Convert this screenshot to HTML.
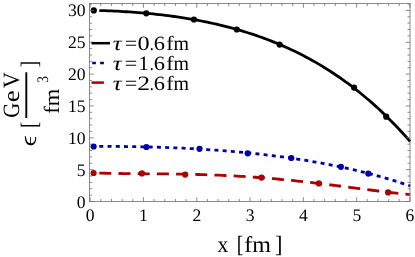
<!DOCTYPE html>
<html><head><meta charset="utf-8"><title>plot</title>
<style>html,body{margin:0;padding:0;background:#fff}svg{display:block;will-change:transform}text{font-family:"Liberation Serif",serif;fill:#000;font-kerning:none;text-rendering:geometricPrecision}</style></head><body>
<svg width="415" height="257" viewBox="0 0 415 257">
<rect width="415" height="257" fill="#fff"/>
<path d="M99.3,10.53 L102.3,10.61 L105.3,10.71 L108.3,10.82 L111.3,10.94 L114.3,11.08 L117.3,11.22 L120.3,11.38 L123.3,11.55 L126.3,11.73 L129.3,11.92 L132.3,12.13 L135.3,12.35 L138.3,12.58 L141.3,12.83 L144.3,13.09 L147.3,13.36 L150.3,13.65 L153.3,13.95 L156.3,14.27 L159.3,14.60 L162.3,14.95 L165.3,15.31 L168.3,15.69 L171.3,16.09 L174.3,16.50 L177.3,16.93 L180.3,17.37 L183.3,17.84 L186.3,18.32 L189.3,18.81 L192.3,19.33 L195.3,19.87 L198.3,20.42 L201.3,21.00 L204.3,21.59 L207.3,22.21 L210.3,22.84 L213.3,23.50 L216.3,24.18 L219.3,24.88 L222.3,25.61 L225.3,26.35 L228.3,27.12 L231.3,27.92 L234.3,28.74 L237.3,29.58 L240.3,30.45 L243.3,31.35 L246.3,32.27 L249.3,33.22 L252.3,34.19 L255.3,35.20 L258.3,36.23 L261.3,37.30 L264.3,38.39 L267.3,39.51 L270.3,40.67 L273.3,41.85 L276.3,43.07 L279.3,44.32 L282.3,45.61 L285.3,46.93 L288.3,48.28 L291.3,49.67 L294.3,51.09 L297.3,52.56 L300.3,54.06 L303.3,55.59 L306.3,57.17 L309.3,58.78 L312.3,60.44 L315.3,62.14 L318.3,63.88 L321.3,65.66 L324.3,67.48 L327.3,69.35 L330.3,71.26 L333.3,73.22 L336.3,75.22 L339.3,77.27 L342.3,79.37 L345.3,81.52 L348.3,83.72 L351.3,85.96 L354.3,88.26 L357.3,90.61 L360.3,93.02 L363.3,95.47 L366.3,97.98 L369.3,100.55 L372.3,103.17 L375.3,105.85 L378.3,108.59 L381.3,111.39 L384.3,114.24 L387.3,117.16 L390.3,120.14 L393.3,123.18 L396.3,126.29 L399.3,129.46 L402.3,132.69 L405.3,136.00 L408.3,139.37 L410.2,141.54" fill="none" stroke="#000" stroke-width="2.8"/>
<path d="M99.3,146.47 L102.3,146.46 L105.3,146.45 L108.3,146.44 L111.3,146.45 L114.3,146.45 L117.3,146.47 L120.3,146.49 L123.3,146.51 L126.3,146.54 L129.3,146.58 L132.3,146.62 L135.3,146.67 L138.3,146.72 L141.3,146.78 L144.3,146.85 L147.3,146.92 L150.3,147.00 L153.3,147.08 L156.3,147.17 L159.3,147.26 L162.3,147.36 L165.3,147.46 L168.3,147.58 L171.3,147.69 L174.3,147.82 L177.3,147.95 L180.3,148.08 L183.3,148.22 L186.3,148.37 L189.3,148.52 L192.3,148.69 L195.3,148.85 L198.3,149.03 L201.3,149.21 L204.3,149.39 L207.3,149.59 L210.3,149.79 L213.3,149.99 L216.3,150.21 L219.3,150.43 L222.3,150.66 L225.3,150.89 L228.3,151.14 L231.3,151.39 L234.3,151.65 L237.3,151.91 L240.3,152.19 L243.3,152.47 L246.3,152.76 L249.3,153.06 L252.3,153.37 L255.3,153.68 L258.3,154.00 L261.3,154.34 L264.3,154.68 L267.3,155.03 L270.3,155.39 L273.3,155.76 L276.3,156.14 L279.3,156.53 L282.3,156.93 L285.3,157.34 L288.3,157.75 L291.3,158.18 L294.3,158.62 L297.3,159.08 L300.3,159.54 L303.3,160.01 L306.3,160.49 L309.3,160.99 L312.3,161.50 L315.3,162.02 L318.3,162.55 L321.3,163.09 L324.3,163.65 L327.3,164.22 L330.3,164.80 L333.3,165.40 L336.3,166.01 L339.3,166.63 L342.3,167.26 L345.3,167.92 L348.3,168.58 L351.3,169.26 L354.3,169.95 L357.3,170.66 L360.3,171.39 L363.3,172.13 L366.3,172.89 L369.3,173.66 L372.3,174.45 L375.3,175.25 L378.3,176.08 L381.3,176.92 L384.3,177.77 L387.3,178.65 L390.3,179.54 L393.3,180.45 L396.3,181.38 L399.3,182.33 L402.3,183.30 L405.3,184.29 L408.3,185.29 L410.2,185.94" fill="none" stroke="#0000aa" stroke-width="2.8" stroke-dasharray="4 4.23"/>
<path d="M99.3,173.10 L102.3,173.18 L105.3,173.25 L108.3,173.32 L111.3,173.38 L114.3,173.43 L117.3,173.48 L120.3,173.52 L123.3,173.56 L126.3,173.60 L129.3,173.63 L132.3,173.66 L135.3,173.68 L138.3,173.71 L141.3,173.73 L144.3,173.76 L147.3,173.78 L150.3,173.80 L153.3,173.83 L156.3,173.85 L159.3,173.88 L162.3,173.90 L165.3,173.93 L168.3,173.97 L171.3,174.00 L174.3,174.04 L177.3,174.08 L180.3,174.13 L183.3,174.18 L186.3,174.24 L189.3,174.30 L192.3,174.36 L195.3,174.43 L198.3,174.51 L201.3,174.59 L204.3,174.68 L207.3,174.78 L210.3,174.88 L213.3,174.99 L216.3,175.10 L219.3,175.22 L222.3,175.35 L225.3,175.49 L228.3,175.63 L231.3,175.78 L234.3,175.94 L237.3,176.11 L240.3,176.28 L243.3,176.46 L246.3,176.65 L249.3,176.85 L252.3,177.05 L255.3,177.27 L258.3,177.49 L261.3,177.71 L264.3,177.95 L267.3,178.19 L270.3,178.45 L273.3,178.71 L276.3,178.97 L279.3,179.25 L282.3,179.53 L285.3,179.82 L288.3,180.11 L291.3,180.41 L294.3,180.72 L297.3,181.04 L300.3,181.36 L303.3,181.69 L306.3,182.02 L309.3,182.36 L312.3,182.70 L315.3,183.05 L318.3,183.41 L321.3,183.77 L324.3,184.13 L327.3,184.50 L330.3,184.87 L333.3,185.25 L336.3,185.62 L339.3,186.00 L342.3,186.38 L345.3,186.77 L348.3,187.15 L351.3,187.54 L354.3,187.93 L357.3,188.32 L360.3,188.70 L363.3,189.09 L366.3,189.47 L369.3,189.86 L372.3,190.24 L375.3,190.62 L378.3,190.99 L381.3,191.36 L384.3,191.73 L387.3,192.09 L390.3,192.45 L393.3,192.80 L396.3,193.14 L399.3,193.48 L402.3,193.81 L405.3,194.13 L408.3,194.44 L410.2,194.63" fill="none" stroke="#aa0000" stroke-width="2.8" stroke-dasharray="12 7.2"/>
<circle cx="93.8" cy="10.4" r="3.1" fill="#000"/>
<circle cx="146.3" cy="13.3" r="3.1" fill="#000"/>
<circle cx="193.9" cy="19.5" r="3.1" fill="#000"/>
<circle cx="236.8" cy="29.5" r="3.1" fill="#000"/>
<circle cx="279.6" cy="44.6" r="3.1" fill="#000"/>
<circle cx="354.1" cy="87.6" r="3.1" fill="#000"/>
<circle cx="386.2" cy="116.7" r="3.1" fill="#000"/>
<circle cx="93.6" cy="146.5" r="3.1" fill="#0000aa"/>
<circle cx="146.4" cy="147" r="3.1" fill="#0000aa"/>
<circle cx="199.5" cy="148.8" r="3.1" fill="#0000aa"/>
<circle cx="247.7" cy="153.3" r="3.1" fill="#0000aa"/>
<circle cx="291.3" cy="158" r="3.1" fill="#0000aa"/>
<circle cx="340.9" cy="166.8" r="3.1" fill="#0000aa"/>
<circle cx="368.3" cy="173.6" r="3.1" fill="#0000aa"/>
<circle cx="93.6" cy="173.0" r="3.1" fill="#aa0000"/>
<circle cx="141.9" cy="173.4" r="3.1" fill="#aa0000"/>
<circle cx="185.2" cy="174.6" r="3.1" fill="#aa0000"/>
<circle cx="261.5" cy="177.6" r="3.1" fill="#aa0000"/>
<circle cx="318.9" cy="183.4" r="3.1" fill="#aa0000"/>
<circle cx="388.1" cy="192.4" r="3.1" fill="#aa0000"/>
<rect x="89.5" y="3.5" width="320.50" height="198.00" fill="none" stroke="#6e6e6e" stroke-width="0.8"/>
<path d="M100.81,201.5v-2.5M100.81,3.5v2.5M111.47,201.5v-2.5M111.47,3.5v2.5M122.13,201.5v-2.5M122.13,3.5v2.5M132.79,201.5v-2.5M132.79,3.5v2.5M154.11,201.5v-2.5M154.11,3.5v2.5M164.77,201.5v-2.5M164.77,3.5v2.5M175.43,201.5v-2.5M175.43,3.5v2.5M186.09,201.5v-2.5M186.09,3.5v2.5M207.41,201.5v-2.5M207.41,3.5v2.5M218.07,201.5v-2.5M218.07,3.5v2.5M228.73,201.5v-2.5M228.73,3.5v2.5M239.39,201.5v-2.5M239.39,3.5v2.5M260.71,201.5v-2.5M260.71,3.5v2.5M271.37,201.5v-2.5M271.37,3.5v2.5M282.03,201.5v-2.5M282.03,3.5v2.5M292.69,201.5v-2.5M292.69,3.5v2.5M314.01,201.5v-2.5M314.01,3.5v2.5M324.67,201.5v-2.5M324.67,3.5v2.5M335.33,201.5v-2.5M335.33,3.5v2.5M345.99,201.5v-2.5M345.99,3.5v2.5M367.31,201.5v-2.5M367.31,3.5v2.5M377.97,201.5v-2.5M377.97,3.5v2.5M388.63,201.5v-2.5M388.63,3.5v2.5M399.29,201.5v-2.5M399.29,3.5v2.5M89.5,195.13h2.5M410.0,195.13h-2.5M89.5,188.76h2.5M410.0,188.76h-2.5M89.5,182.39h2.5M410.0,182.39h-2.5M89.5,176.02h2.5M410.0,176.02h-2.5M89.5,163.28h2.5M410.0,163.28h-2.5M89.5,156.91h2.5M410.0,156.91h-2.5M89.5,150.54h2.5M410.0,150.54h-2.5M89.5,144.17h2.5M410.0,144.17h-2.5M89.5,131.43h2.5M410.0,131.43h-2.5M89.5,125.06h2.5M410.0,125.06h-2.5M89.5,118.69h2.5M410.0,118.69h-2.5M89.5,112.32h2.5M410.0,112.32h-2.5M89.5,99.58h2.5M410.0,99.58h-2.5M89.5,93.21h2.5M410.0,93.21h-2.5M89.5,86.84h2.5M410.0,86.84h-2.5M89.5,80.47h2.5M410.0,80.47h-2.5M89.5,67.73h2.5M410.0,67.73h-2.5M89.5,61.36h2.5M410.0,61.36h-2.5M89.5,54.99h2.5M410.0,54.99h-2.5M89.5,48.62h2.5M410.0,48.62h-2.5M89.5,35.88h2.5M410.0,35.88h-2.5M89.5,29.51h2.5M410.0,29.51h-2.5M89.5,23.14h2.5M410.0,23.14h-2.5M89.5,16.77h2.5M410.0,16.77h-2.5M89.5,4.03h2.5M410.0,4.03h-2.5" fill="none" stroke="#6e6e6e" stroke-width="0.8"/>
<path d="M90.15,201.5v-4.3M90.15,3.5v4.3M143.45,201.5v-4.3M143.45,3.5v4.3M196.75,201.5v-4.3M196.75,3.5v4.3M250.05,201.5v-4.3M250.05,3.5v4.3M303.35,201.5v-4.3M303.35,3.5v4.3M356.65,201.5v-4.3M356.65,3.5v4.3M409.95,201.5v-4.3M409.95,3.5v4.3M89.5,201.50h4.3M410.0,201.50h-4.3M89.5,169.65h4.3M410.0,169.65h-4.3M89.5,137.80h4.3M410.0,137.80h-4.3M89.5,105.95h4.3M410.0,105.95h-4.3M89.5,74.10h4.3M410.0,74.10h-4.3M89.5,42.25h4.3M410.0,42.25h-4.3M89.5,10.40h4.3M410.0,10.40h-4.3" fill="none" stroke="#6e6e6e" stroke-width="0.8"/>
<text x="90.2" y="220.5" font-size="17.6" text-anchor="middle">0</text>
<text x="143.5" y="220.5" font-size="17.6" text-anchor="middle">1</text>
<text x="196.8" y="220.5" font-size="17.6" text-anchor="middle">2</text>
<text x="250.1" y="220.5" font-size="17.6" text-anchor="middle">3</text>
<text x="303.5" y="220.5" font-size="17.6" text-anchor="middle">4</text>
<text x="356.8" y="220.5" font-size="17.6" text-anchor="middle">5</text>
<text x="410.0" y="220.5" font-size="17.6" text-anchor="middle">6</text>
<text x="85.6" y="207.7" font-size="17.6" text-anchor="end">0</text>
<text x="85.6" y="175.7" font-size="17.6" text-anchor="end">5</text>
<text x="85.6" y="143.7" font-size="17.6" text-anchor="end">10</text>
<text x="85.6" y="111.7" font-size="17.6" text-anchor="end">15</text>
<text x="85.6" y="79.7" font-size="17.6" text-anchor="end">20</text>
<text x="85.6" y="47.7" font-size="17.6" text-anchor="end">25</text>
<text x="85.6" y="15.7" font-size="17.6" text-anchor="end">30</text>
<text transform="translate(217.41,252.0) scale(0.9473,1)" font-size="22.7">x</text>
<text transform="translate(236.63,252.1) scale(0.8373,1)" font-size="23.6">[</text>
<text transform="translate(244.16,252.0) scale(1.0595,1)" font-size="22.7">fm</text>
<text transform="translate(275.09,252.1) scale(0.9515,1)" font-size="23.6">]</text>
<path d="M24.8,136.2 C24.9,140.8 26.0,145.2 30.6,145.2 C35.0,145.2 36.4,141.4 36.2,136.9 L35.15,136.9 C35.3,140.6 34.2,143.3 30.6,143.3 C27.4,143.3 26.3,140.4 25.9,136.3 Z" fill="#000"/>
<rect x="30.1" y="137.2" width="0.85" height="6.8" fill="#000"/>
<text transform="translate(36.7,127.80) rotate(-90) scale(0.7422,1)" font-size="23.6">[</text>
<text transform="translate(18.8,117.65) rotate(-90) scale(0.8877,1)" font-size="23.4">G</text>
<text transform="translate(18.8,102.26) rotate(-90) scale(1.1546,1)" font-size="23.4">e</text>
<text transform="translate(18.8,88.04) rotate(-90) scale(0.9283,1)" font-size="23.4">V</text>
<rect x="25.35" y="72.3" width="1.9" height="45.7" fill="#000"/>
<text transform="translate(58.6,113.69) rotate(-90) scale(1.0299,1)" font-size="21.8">fm</text>
<text transform="translate(47.8,82.64) rotate(-90) scale(0.8322,1)" font-size="16.0">3</text>
<text transform="translate(36.7,67.55) rotate(-90) scale(0.8754,1)" font-size="23.6">]</text>
<path d="M91.5,43.2H110" stroke="#000" stroke-width="2.5" fill="none"/>
<path d="M92.2,63.1H95.9M100.1,63.1H103.9" stroke="#0000aa" stroke-width="2.5" fill="none"/>
<path d="M91.5,82.6H103.9" stroke="#aa0000" stroke-width="2.5" fill="none"/>
<text transform="translate(112.65,50.4) scale(1.2375,1)" font-size="20.3" font-style="italic">&#x3c4;</text>
<text transform="translate(124.80,50.4) scale(1.0904,1)" font-size="20.3">=</text>
<text transform="translate(137.57,50.4) scale(1.1972,1)" font-size="20.3">0</text>
<text transform="translate(149.64,50.4) scale(0.7921,1)" font-size="20.3">.</text>
<text transform="translate(153.73,50.4) scale(1.1069,1)" font-size="20.3">6</text>
<text transform="translate(166.32,50.4) scale(1.0920,1)" font-size="20.3">f</text>
<text transform="translate(173.48,50.4) scale(0.9836,1)" font-size="20.3">m</text>
<text transform="translate(112.65,69.9) scale(1.2375,1)" font-size="20.3" font-style="italic">&#x3c4;</text>
<text transform="translate(124.80,69.9) scale(1.0904,1)" font-size="20.3">=</text>
<text transform="translate(138.58,69.9) scale(1.0215,1)" font-size="20.3">1</text>
<text transform="translate(149.64,69.9) scale(0.7921,1)" font-size="20.3">.</text>
<text transform="translate(153.73,69.9) scale(1.1069,1)" font-size="20.3">6</text>
<text transform="translate(166.32,69.9) scale(1.0920,1)" font-size="20.3">f</text>
<text transform="translate(173.48,69.9) scale(0.9836,1)" font-size="20.3">m</text>
<text transform="translate(112.65,90.0) scale(1.2375,1)" font-size="20.3" font-style="italic">&#x3c4;</text>
<text transform="translate(124.80,90.0) scale(1.0904,1)" font-size="20.3">=</text>
<text transform="translate(137.37,90.0) scale(1.2657,1)" font-size="20.3">2</text>
<text transform="translate(149.64,90.0) scale(0.7921,1)" font-size="20.3">.</text>
<text transform="translate(153.73,90.0) scale(1.1069,1)" font-size="20.3">6</text>
<text transform="translate(166.32,90.0) scale(1.0920,1)" font-size="20.3">f</text>
<text transform="translate(173.48,90.0) scale(0.9836,1)" font-size="20.3">m</text>
</svg></body></html>
